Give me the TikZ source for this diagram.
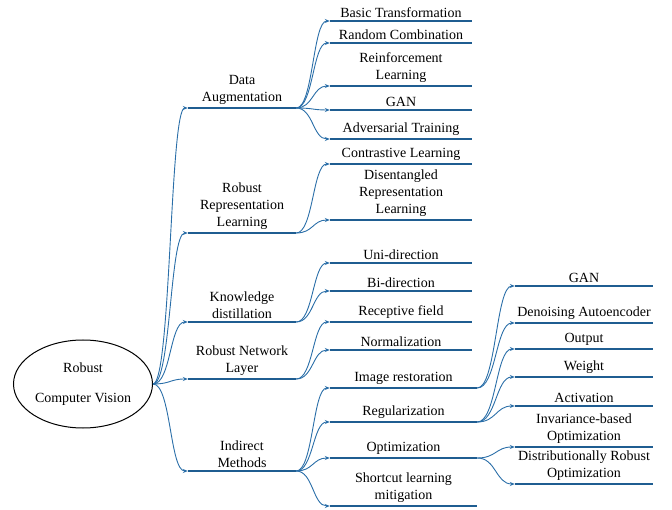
\documentclass[tikz,border=0pt]{standalone}
\usepackage{fontspec}
\setmainfont{Liberation Serif}
\usetikzlibrary{arrows.meta, shapes.geometric}
\definecolor{barblue}{RGB}{31,93,145}
\definecolor{linkblue}{RGB}{42,110,168}

\begin{document}
\begin{tikzpicture}[x=1pt, y=-1pt, >=Stealth,
    topic/.style={anchor=south, inner xsep=0pt, inner ysep=3pt, align=center, font=\fontsize{14}{17}\selectfont},
    bar/.style={draw=barblue, line width=2.4pt},
    link/.style={draw=linkblue, line width=0.9pt, -{Stealth[length=5pt, width=4pt]}}]
    \useasboundingbox (0,0) rectangle (672,510);

    % Root
    \node[ellipse, draw, line width=1pt, inner sep=0pt, minimum width=139pt, minimum height=88pt, align=center,
          font=\fontsize{14}{17}\selectfont] (root) at (83,384) {Robust\\[13pt]Computer Vision};

    % First level
    \foreach \name/\y/\txt in {da/108/{Data\\Augmentation}, rrl/233/{Robust\\Representation\\Learning},
                               kd/322/{Knowledge\\distillation}, rnl/379/{Robust Network\\Layer},
                               im/471/{Indirect\\Methods}} {
        \node[topic, minimum width=108pt] (\name) at (242,\y) {\txt};
        \draw[bar] (\name.south west) -- (\name.south east);
        \draw[link] (root.east) .. controls +(18,0) and +(-18,0) .. (\name.south west);
    }

    % Second level
    \foreach \src/\name/\y/\txt in {da/bt/21/{Basic Transformation}, da/rc/43/{Random Combination},
                                    da/rl/86/{Reinforcement\\Learning}, da/gan/110/{GAN},
                                    da/at/139/{Adversarial Training},
                                    rrl/cl/164/{Contrastive Learning}, rrl/drl/220/{Disentangled\\Representation\\Learning},
                                    kd/ud/263/{Uni-direction}, kd/bd/291/{Bi-direction},
                                    rnl/rf/322/{Receptive field}, rnl/nz/350/{Normalization}} {
        \node[topic, minimum width=142pt] (\name) at (401,\y) {\txt};
        \draw[bar] (\name.south west) -- (\name.south east);
        \draw[link] (\src.south east) .. controls +(17,0) and +(-17,0) .. (\name.south west);
    }
    \foreach \name/\y/\txt in {ir/388/{Image restoration}, rg/422/{Regularization},
                               op/458/{Optimization}, sl/506/{Shortcut learning\\mitigation}} {
        \node[topic, minimum width=147pt] (\name) at (403.5,\y) {\txt};
        \draw[bar] (\name.south west) -- (\name.south east);
        \draw[link] (im.south east) .. controls +(17,0) and +(-17,0) .. (\name.south west);
    }

    % Third level
    \foreach \src/\name/\y/\txt in {ir/gant/286/{GAN}, ir/dae/323/{Denoising Autoencoder},
                                    rg/out/349/{Output}, rg/wt/377/{Weight}, rg/act/406/{Activation},
                                    op/iob/447/{Invariance-based\\Optimization},
                                    op/dro/484/{Distributionally Robust\\Optimization}} {
        \node[topic, minimum width=138pt] (\name) at (584,\y) {\txt};
        \draw[bar] (\name.south west) -- (\name.south east);
        \draw[link] (\src.south east) .. controls +(19,0) and +(-19,0) .. (\name.south west);
    }
\end{tikzpicture}
\end{document}
